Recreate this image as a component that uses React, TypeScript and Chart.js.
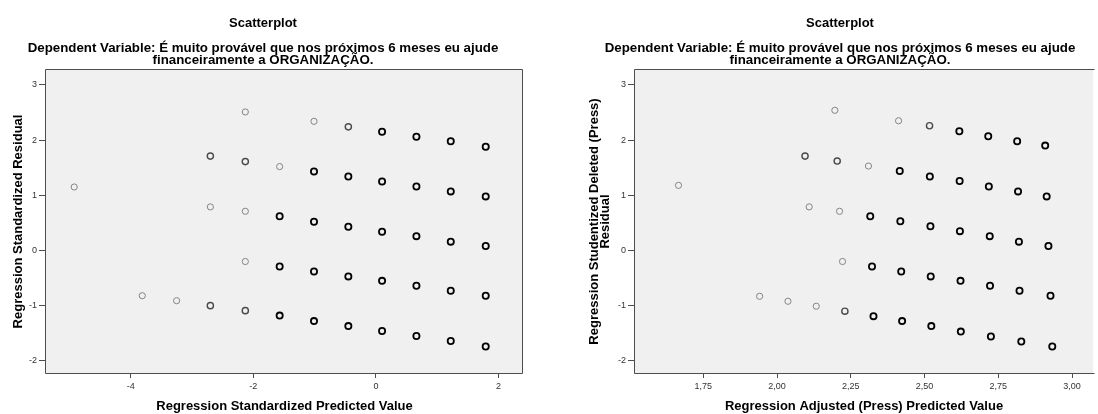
import React, { useEffect, useRef } from 'react';
import { Chart, registerables } from 'chart.js';

Chart.register(...registerables);

const FONT = "'Liberation Sans', Arial, Helvetica, sans-serif";

// ---- text ----
const TITLE = 'Scatterplot';
const SUBTITLE = [
  'Dependent Variable: É muito provável que nos próximos 6 meses eu ajude',
  'financeiramente a ORGANIZAÇÃO.',
];
const LEFT_X_TITLE = 'Regression Standardized Predicted Value';
const LEFT_Y_TITLE = ['Regression Standardized Residual'];
const RIGHT_X_TITLE = 'Regression Adjusted (Press) Predicted Value';
const RIGHT_Y_TITLE = ['Regression Studentized Deleted (Press)', 'Residual'];

// ---- ticks ----
const yTicks = [-2, -1, 0, 1, 2, 3];
const leftXTicks = [-4, -2, 0, 2];
const rightXTicks = [1.75, 2.0, 2.25, 2.5, 2.75, 3.0];

// ---- left scatter: standardized predicted vs standardized residual ----
const leftX = [
  -4.92,
  -3.81,
  -3.25,
  -2.70, -2.70, -2.70,
  -2.13, -2.13, -2.13, -2.13, -2.13,
  -1.57, -1.57, -1.57, -1.57,
  -1.01, -1.01, -1.01, -1.01, -1.01,
  -0.45, -0.45, -0.45, -0.45, -0.45,
  0.10, 0.10, 0.10, 0.10, 0.10,
  0.66, 0.66, 0.66, 0.66, 0.66,
  1.22, 1.22, 1.22, 1.22, 1.22,
  1.79, 1.79, 1.79, 1.79, 1.79,
];
const leftY = [
  1.15,
  -0.82,
  -0.91,
  1.71, 0.79, -1.00,
  2.51, 1.61, 0.71, -0.20, -1.09,
  1.52, 0.62, -0.29, -1.18,
  2.34, 1.43, 0.52, -0.38, -1.28,
  2.24, 1.34, 0.43, -0.47, -1.37,
  2.15, 1.25, 0.34, -0.55, -1.46,
  2.06, 1.16, 0.26, -0.64, -1.55,
  1.98, 1.07, 0.16, -0.73, -1.64,
  1.88, 0.98, 0.08, -0.82, -1.74,
];
// overlap level of each marker (1 = single case, 3 = many overlapping cases)
const leftCases = [
  1,
  1,
  1,
  2, 1, 2,
  1, 2, 1, 1, 2,
  1, 3, 3, 3,
  1, 3, 3, 3, 3,
  2, 3, 3, 3, 3,
  3, 3, 3, 3, 3,
  3, 3, 3, 3, 3,
  3, 3, 3, 3, 3,
  3, 3, 3, 3, 3,
];

// ---- right scatter: adjusted predicted vs studentized deleted residual ----
const rightX = [
  1.666, 1.941, 2.037, 2.095, 2.109, 2.133,
  2.196, 2.204, 2.212, 2.222, 2.230,
  2.310, 2.316, 2.322, 2.327,
  2.412, 2.416, 2.418, 2.421, 2.424,
  2.517, 2.518, 2.520, 2.521, 2.523,
  2.618, 2.619, 2.620, 2.622, 2.623,
  2.716, 2.718, 2.721, 2.722, 2.725,
  2.814, 2.817, 2.820, 2.822, 2.828,
  2.909, 2.914, 2.920, 2.927, 2.933,
];
const rightY = [
  1.18, -0.83, -0.92, 1.71, 0.79, -1.01,
  2.54, 1.62, 0.71, -0.20, -1.10,
  1.53, 0.62, -0.29, -1.19,
  2.35, 1.44, 0.53, -0.38, -1.28,
  2.26, 1.34, 0.44, -0.47, -1.37,
  2.16, 1.26, 0.35, -0.55, -1.47,
  2.07, 1.16, 0.26, -0.64, -1.56,
  1.98, 1.07, 0.16, -0.73, -1.65,
  1.90, 0.98, 0.08, -0.82, -1.74,
];
const rightCases = [
  1, 1, 1, 2, 1, 1,
  1, 2, 1, 1, 2,
  1, 3, 3, 3,
  1, 3, 3, 3, 3,
  2, 3, 3, 3, 3,
  3, 3, 3, 3, 3,
  3, 3, 3, 3, 3,
  3, 3, 3, 3, 3,
  3, 3, 3, 3, 3,
];

const CASE_COLORS = ['#000000', '#858585', '#4a4a4a', '#000000'];
const CASE_WIDTHS = [1, 1, 1.4, 1.8];

const W = 549;
const H = 414;

const panelPlugin = {
  id: 'spssPanel',
  beforeDraw(chart: any, _args: any, opts: any) {
    const { ctx, chartArea: a } = chart;
    ctx.save();
    ctx.fillStyle = '#ffffff';
    ctx.fillRect(0, 0, chart.width, chart.height);
    ctx.fillStyle = '#f0f0f0';
    ctx.fillRect(a.left, a.top, a.right - a.left, a.bottom - a.top);
    ctx.restore();
  },
  afterDatasetsDraw(chart: any, _args: any, opts: any) {
    const { ctx, chartArea: a } = chart;
    ctx.save();
    ctx.strokeStyle = '#4d4d4d';
    ctx.lineWidth = 1;
    ctx.beginPath();
    const l = Math.round(a.left) - 0.5;
    const t = Math.round(a.top) - 0.5;
    const b = Math.round(a.bottom) + 0.5;
    const r = Math.round(a.right) - 0.5;
    if (opts.closeRight) {
      ctx.moveTo(r, t);
      ctx.lineTo(l, t);
      ctx.lineTo(l, b);
      ctx.lineTo(r, b);
      ctx.closePath();
    } else {
      ctx.moveTo(r + 2, t);
      ctx.lineTo(l, t);
      ctx.lineTo(l, b);
      ctx.lineTo(r + 2, b);
    }
    ctx.stroke();
    // titles
    ctx.fillStyle = '#000000';
    ctx.textAlign = 'center';
    ctx.textBaseline = 'alphabetic';
    ctx.font = `bold 13px ${FONT}`;
    ctx.fillText(TITLE, opts.cx, 26.5);
    ctx.font = `bold 13.3px ${FONT}`;
    ctx.fillText(SUBTITLE[0], opts.cx, 52);
    ctx.fillText(SUBTITLE[1], opts.cx, 63.5);
    ctx.restore();
  },
};

type PanelProps = {
  xs: number[];
  ys: number[];
  cases: number[];
  xTicks: number[];
  xMin: number;
  xMax: number;
  xTitle: string;
  yTitle: string[];
  yWidth: number;
  yTitlePad: number;
  padRight: number;
  titleCx: number;
  closeRight: boolean;
  comma: boolean;
  left: number;
};

function Panel(p: PanelProps) {
  const ref = useRef<HTMLCanvasElement | null>(null);
  useEffect(() => {
    if (!ref.current) return;
    const pts = p.xs.map((x, i) => ({ x, y: p.ys[i] }));
    const chart = new Chart(ref.current, {
      type: 'scatter',
      data: {
        datasets: [
          {
            data: pts,
            pointRadius: 3.1,
            pointHoverRadius: 3.1,
            backgroundColor: 'rgba(0,0,0,0)',
            borderColor: (c: any) => CASE_COLORS[p.cases[c.dataIndex]] || '#000',
            borderWidth: (c: any) => CASE_WIDTHS[p.cases[c.dataIndex]] || 1,
          } as any,
        ],
      },
      options: {
        animation: false,
        responsive: false,
        maintainAspectRatio: false,
        events: [],
        layout: { padding: { top: 70, left: 0, right: p.padRight, bottom: 0 } },
        plugins: {
          legend: { display: false },
          tooltip: { enabled: false },
          spssPanel: { cx: p.titleCx, closeRight: p.closeRight },
        } as any,
        scales: {
          x: {
            type: 'linear',
            min: p.xMin,
            max: p.xMax,
            afterBuildTicks: (s: any) => {
              s.ticks = p.xTicks.map((v) => ({ value: v }));
            },
            afterFit: (s: any) => {
              s.height = 41;
            },
            ticks: {
              font: { family: FONT, size: 9 },
              color: '#333333',
              padding: 3,
              maxRotation: 0,
              autoSkip: false,
              callback: (v: any) => (p.comma ? Number(v).toFixed(2).replace('.', ',') : String(v)),
            },
            grid: { drawOnChartArea: false, drawTicks: true, tickLength: 5, color: '#4d4d4d' },
            border: { display: false },
            title: {
              display: true,
              text: p.xTitle,
              color: '#000',
              font: { family: FONT, size: 13, weight: 'bold', lineHeight: 1.2 },
              padding: { top: 0, bottom: 0 },
            },
          },
          y: {
            type: 'linear',
            min: -2.22,
            max: 3.27,
            afterBuildTicks: (s: any) => {
              s.ticks = yTicks.map((v) => ({ value: v }));
            },
            afterFit: (s: any) => {
              s.width = p.yWidth;
            },
            ticks: {
              font: { family: FONT, size: 9 },
              color: '#333333',
              padding: 2,
              autoSkip: false,
              callback: (v: any) => String(v),
            },
            grid: { drawOnChartArea: false, drawTicks: true, tickLength: 7, color: '#4d4d4d' },
            border: { display: false },
            title: {
              display: true,
              text: p.yTitle,
              color: '#000',
              font: { family: FONT, size: 13, weight: 'bold', lineHeight: '11.6px' },
              padding: { top: p.yTitlePad, bottom: 0 },
            },
          },
        },
      } as any,
      plugins: [panelPlugin],
    });
    return () => chart.destroy();
  }, []);
  return (
    <div style={{ position: 'absolute', left: p.left, top: 0, width: W, height: H, overflow: 'hidden' }}>
      <canvas ref={ref} width={W} height={H} style={{ width: W, height: H, display: 'block' }} />
    </div>
  );
}

export default function App() {
  return (
    <div style={{ position: 'absolute', left: 0, top: 0, width: 1098, height: 414, background: '#fff', overflow: 'hidden' }}>
      <Panel
        xs={leftX}
        ys={leftY}
        cases={leftCases}
        xTicks={leftXTicks}
        xMin={-5.38}
        xMax={2.398}
        xTitle={LEFT_X_TITLE}
        yTitle={LEFT_Y_TITLE}
        yWidth={46}
        yTitlePad={12.2}
        padRight={26}
        titleCx={263}
        closeRight={true}
        comma={false}
        left={0}
      />
      <Panel
        xs={rightX}
        ys={rightY}
        cases={rightCases}
        xTicks={rightXTicks}
        xMin={1.5186}
        xMax={3.0714}
        xTitle={RIGHT_X_TITLE}
        yTitle={RIGHT_Y_TITLE}
        yWidth={86}
        yTitlePad={39.2}
        padRight={0}
        titleCx={291}
        closeRight={false}
        comma={true}
        left={549}
      />
    </div>
  );
}
